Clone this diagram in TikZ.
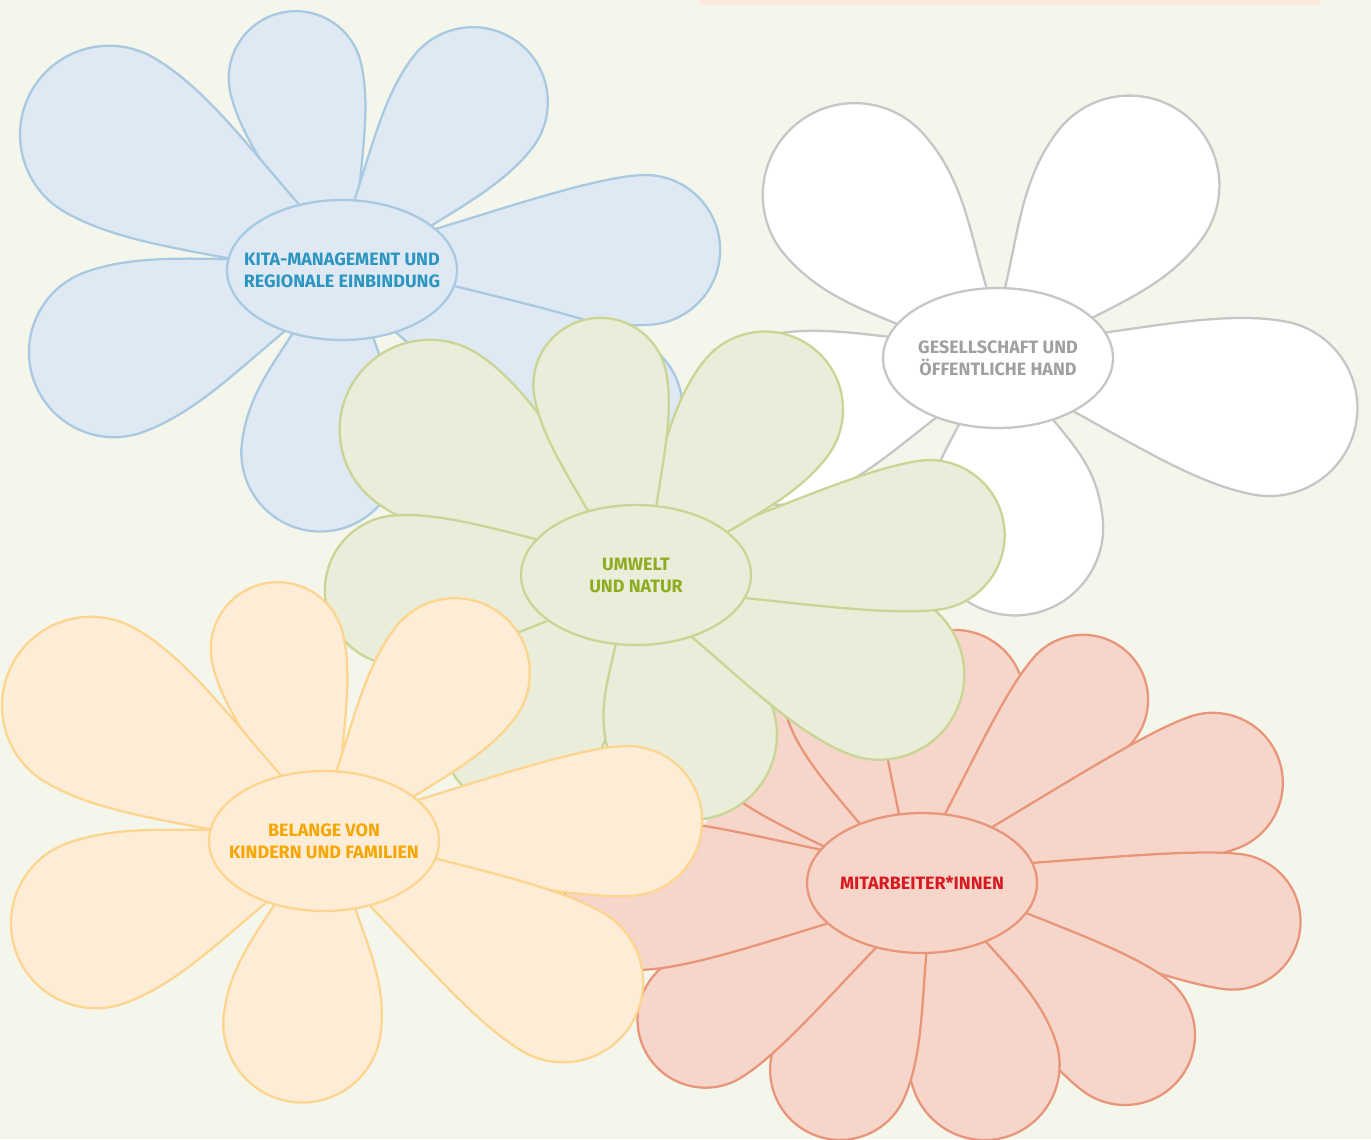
\documentclass[tikz,border=0pt]{standalone}
\usepackage{fontspec}
\setmainfont{Fira Sans}
\usetikzlibrary{shapes.geometric}
\definecolor{bg}{HTML}{F4F6EC}
\definecolor{topbar}{HTML}{FDE9DD}
\definecolor{bluefill}{HTML}{DEE9F3}
\definecolor{bluestroke}{HTML}{A9C9E1}
\definecolor{bluetext}{HTML}{2C96C0}
\definecolor{whitefill}{HTML}{FFFFFF}
\definecolor{whitestroke}{HTML}{C6C6C6}
\definecolor{whitetext}{HTML}{A0A0A0}
\definecolor{greenfill}{HTML}{E9EDD9}
\definecolor{greenstroke}{HTML}{C9D594}
\definecolor{greentext}{HTML}{8DAD1E}
\definecolor{redfill}{HTML}{F6D6CA}
\definecolor{redstroke}{HTML}{E8967A}
\definecolor{redtext}{HTML}{D71920}
\definecolor{yellowfill}{HTML}{FEEDD6}
\definecolor{yellowstroke}{HTML}{FDD58E}
\definecolor{yellowtext}{HTML}{F5A700}
\tikzset{
  petalbase/.style={line width=1.3pt, line join=round},
  bluepetal/.style={petalbase, draw=bluestroke, fill=bluefill},
  whitepetal/.style={petalbase, draw=whitestroke, fill=whitefill},
  greenpetal/.style={petalbase, draw=greenstroke, fill=greenfill},
  redpetal/.style={petalbase, draw=redstroke, fill=redfill},
  yellowpetal/.style={petalbase, draw=yellowstroke, fill=yellowfill},
  kernel/.style={ellipse, line width=1.3pt, minimum width=4.6cm, minimum height=2.8cm,
    inner sep=0pt},
  kerneltext/.style={inner sep=0pt, align=center, font=\bfseries\fontsize{10.2}{12.5}\selectfont},
}
% #1 cx, #2 cy, #3 style, #4 list of dx/dy/halfwidth
\newcommand\flowerpetals[4]{%
  \foreach \px/\py/\pw in {#4} {
    \pgfmathsetmacro\pang{atan2(-(\py),\px)}
    \pgfmathsetmacro\plen{veclen(\px,\py)}
    \draw[#3, shift={(#1,#2)}, rotate=\pang]
      (0,-14) .. controls ({0.3*\plen},{-0.47*\pw}) and ({\plen-1.85*\pw},{-\pw}) .. ({\plen-\pw},{-\pw})
      .. controls ({\plen-0.448*\pw},{-\pw}) and ({\plen},{-0.552*\pw}) .. ({\plen},0)
      .. controls ({\plen},{0.552*\pw}) and ({\plen-0.448*\pw},{\pw}) .. ({\plen-\pw},{\pw})
      .. controls ({\plen-1.85*\pw},{\pw}) and ({0.3*\plen},{0.47*\pw}) .. (0,14) -- cycle;
  }%
}
\begin{document}
\begin{tikzpicture}[x=0.02cm, y=-0.02cm]
\useasboundingbox (0,0) rectangle (1371,1139);
\fill[bg] (0,0) rectangle (1371,1139);
\fill[topbar] (699,0) rectangle (1320,5);

% blue flower
\flowerpetals{342}{270}{bluepetal}{-62/-257/67, 177/-227/75, 378/-25/75, 332/173/75, -31/261/79, -308/111/85, -310/-180/89}
\node[kernel, draw=bluestroke, fill=bluefill] (kita) at (342,270) {};
\node[kerneltext, text=bluetext] (kitatext) at (kita.center) {KITA-MANAGEMENT UND\\REGIONALE EINBINDUNG};

% white flower
\flowerpetals{998}{358}{whitepetal}{-204/-232/92, 186/-244/90, 358/66/88, 26/257/88, -300/85/85}
\node[kernel, draw=whitestroke, fill=whitefill] (gesellschaft) at (998,358) {};
\node[kerneltext, text=whitetext] (gesellschafttext) at (gesellschaft.center) {GESELLSCHAFT UND\\ÖFFENTLICHE HAND};

% red flower
\fill[redfill] (922,883) ellipse [x radius=230, y radius=175];
\flowerpetals{922}{883}{redpetal}{-202/-178/60, -96/-243/65, 45/-252/70, 204/-232/65, 357/-123/70, 378/47/68, 259/194/70, 87/253/75, -110/251/70, -274/173/68, -357/15/75}
\node[kernel, draw=redstroke, fill=redfill] (mitarbeiter) at (922,883) {};
\node[kerneltext, text=redtext] (mitarbeitertext) at (mitarbeiter.center) {MITARBEITER*INNEN};

% green flower
\flowerpetals{636}{575}{greenpetal}{-164/219/80, 84/240/85, 322/132/85, 368/-50/75, 177/-227/78, -280/-197/90, -48/-256/67, -311/20/75}
\node[kernel, draw=greenstroke, fill=greenfill] (umwelt) at (636,575) {};
\node[kerneltext, text=greentext] (umwelttext) at (umwelt.center) {UMWELT\\UND NATUR};

% yellow flower
\flowerpetals{324}{841}{yellowpetal}{-62/-257/67, 177/-227/75, 378/-25/75, 308/182/80, -31/261/79, -308/111/85, -310/-180/89}
\node[kernel, draw=yellowstroke, fill=yellowfill] (belange) at (324,841) {};
\node[kerneltext, text=yellowtext] (belangetext) at (belange.center) {BELANGE VON\\KINDERN UND FAMILIEN};
\end{tikzpicture}
\end{document}
